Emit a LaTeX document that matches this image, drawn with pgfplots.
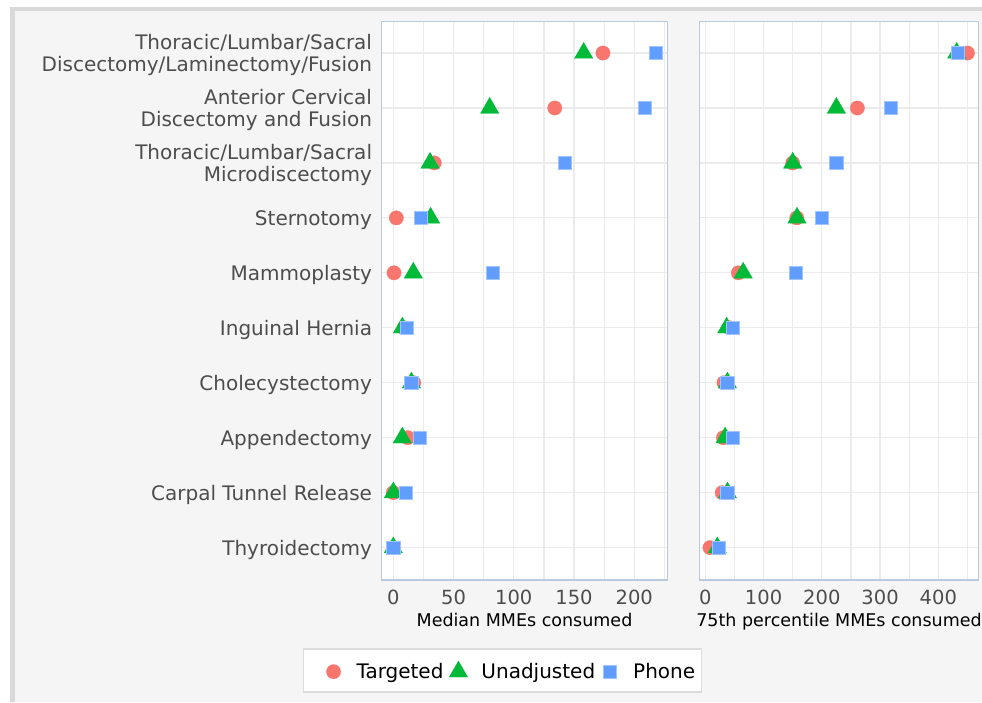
\documentclass[border=0pt]{standalone}
\usepackage{pgfplots}
\pgfplotsset{compat=1.18}
\usepackage{pgfplotstable}
\usepackage{fontspec}
\setmainfont{DejaVu Sans}
\definecolor{cT}{HTML}{F8766D}
\definecolor{cU}{HTML}{00BA38}
\definecolor{cP}{HTML}{619CFF}
\definecolor{framegray}{HTML}{D9D9D9}
\definecolor{bgc}{HTML}{F5F5F5}
\definecolor{gridc}{HTML}{EBEBEB}
\definecolor{panelb}{HTML}{B9CADB}
\definecolor{tickgray}{HTML}{4D4D4D}
\definecolor{legb}{HTML}{DCDCDC}

\pgfplotstableread{
row T U P
0 174 158 218
1 134 80 209
2 34 30.5 142.5
3 2.5 31 22.7
4 0.6 16.6 82.7
5 9 7.5 11.4
6 17 15 15
7 12 7.5 22.4
8 0 0 10.3
9 0 0 0
}\medtab

\pgfplotstableread{
row T U P
0 450 431.5 434
1 261 225 319
2 150 150 225
3 157 157.4 200
4 56.7 65 155.7
5 42 36.7 48
6 32 38 38
7 31 34 47
8 29 38 38
9 8 20.6 23
}\pcttab

\pgfplotsset{
  panel/.style={
    scale only axis,
    height=558.3pt,
    y dir=reverse,
    ymin=-0.57, ymax=9.59,
    ytick={0,...,9},
    grid=both,
    major grid style={line width=1.2pt, draw=gridc},
    minor grid style={line width=1.2pt, draw=gridc},
    major tick length=0pt, minor tick length=0pt,
    axis line style={draw=panelb, line width=1.5pt},
    axis background/.style={fill=white},
    /pgf/number format/assume math mode=true,
    xticklabel style={font=\fontsize{19.5}{20}\selectfont, text=tickgray, inner sep=0pt, anchor=north, yshift=-10pt},
    xlabel style={at={(axis description cs:0.5,0)}, anchor=north, yshift=-32.5pt, inner sep=0pt, font=\fontsize{17.5}{20}\selectfont, text=black},
    legend image code/.code={\path[draw=none,fill=none] (-10pt,-8pt) rectangle (10pt,8pt);
      \draw[mark repeat=2,mark phase=2,##1] plot coordinates {(-10pt,0pt) (0pt,0pt) (10pt,0pt)};},
  },
  legfirst/.style={legend image code/.code={\path[draw=none,fill=none] (-24pt,-8pt) rectangle (10pt,8pt);
      \draw[mark repeat=2,mark phase=2,##1] plot coordinates {(-10pt,0pt) (0pt,0pt) (10pt,0pt)};}},
  mT/.style={only marks, color=cT, mark=*, mark size=7.2pt, mark options={draw=cT, fill=cT, line width=0.2pt}},
  mU/.style={only marks, color=cU, mark=triangle*, mark size=10.7pt, mark options={draw=cU, fill=cU, line width=0.2pt}},
  mP/.style={only marks, color=cP, mark=square*, mark size=6.6pt, mark options={draw=cP!60!white, line width=0.8pt, fill=cP}},
}

\begin{document}
\begin{tikzpicture}[x=1pt,y=1pt]
\useasboundingbox (0,0) rectangle (982,-702);
\fill[white] (0,0) rectangle (982,-702);
\fill[framegray] (10,-7) rectangle (982,-702);
\fill[bgc] (15,-11) rectangle (982,-702);

\begin{axis}[panel,
  at={(381.7pt,-580pt)}, anchor=south west,
  width=285.6pt,
  xmin=-9.63, xmax=227.4,
  xtick={0,50,...,200},
  minor xtick={25,75,...,225},
  yticklabels={{Thoracic/Lumbar/Sacral\\Discectomy/Laminectomy/Fusion},{Anterior Cervical\\Discectomy and Fusion},{Thoracic/Lumbar/Sacral\\Microdiscectomy},Sternotomy,Mammoplasty,Inguinal Hernia,Cholecystectomy,Appendectomy,Carpal Tunnel Release,Thyroidectomy},
  yticklabel style={align=right, font=\fontsize{20}{22}\selectfont, text=tickgray, inner sep=0pt, xshift=-9.5pt, yshift=-2pt},
  xlabel={Median MMEs consumed},
  legend columns=3,
  legend cell align=left,
  legend style={at={(axis description cs:-0.2756,-0.1621)}, anchor=west,
    draw=legb, line width=1.2pt, fill=white, inner xsep=6pt, inner ysep=12pt,
    font=\fontsize{20}{24}\selectfont, text=black,
    nodes={inner xsep=0pt, inner ysep=0pt},
    /tikz/every odd column/.append style={column sep=13pt},
    /tikz/every even column/.append style={column sep=5pt}},
]
\addplot[mT, legfirst] table[x=T, y=row] {\medtab};
\addlegendentry{Targeted}
\addplot[mU] table[x=U, y=row] {\medtab};
\addlegendentry{Unadjusted}
\addplot[mP] table[x=P, y=row] {\medtab};
\addlegendentry{Phone}
\end{axis}

\begin{axis}[panel,
  at={(699.3pt,-580pt)}, anchor=south west,
  width=279.4pt,
  xmin=-10.3, xmax=469.3,
  xtick={0,100,...,400},
  minor xtick={50,150,...,450},
  yticklabels={},
  xlabel={75th percentile MMEs consumed},
]
\addplot[mT] table[x=T, y=row] {\pcttab};
\addplot[mU] table[x=U, y=row] {\pcttab};
\addplot[mP] table[x=P, y=row] {\pcttab};
\end{axis}
\end{tikzpicture}
\end{document}
